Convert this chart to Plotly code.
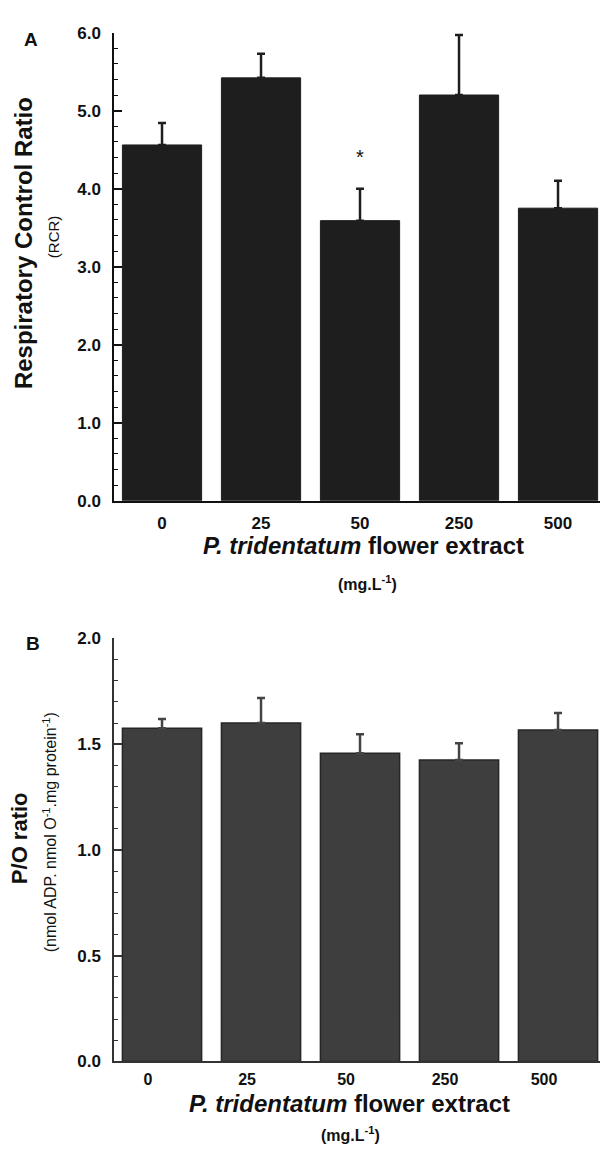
import plotly.graph_objects as go

# ---- data ----
concentrations = ["0", "25", "50", "250", "500"]
rcr_values = [4.56, 5.42, 3.59, 5.20, 3.75]
rcr_errors = [0.28, 0.31, 0.41, 0.77, 0.35]
po_values = [1.575, 1.60, 1.457, 1.425, 1.567]
po_errors = [0.044, 0.118, 0.090, 0.079, 0.081]
significant = ["", "", "*", "", ""]

W, H = 600, 1156
FONT = "Liberation Sans, Arial, sans-serif"


def px_x(v):
    return v / W


def px_y(v):
    return 1 - v / H


fig = go.Figure()

fig.add_trace(go.Bar(
    x=concentrations, y=rcr_values, xaxis="x", yaxis="y",
    marker=dict(color="#1e1e1e", line=dict(color="#1e1e1e", width=1)),
    error_y=dict(type="data", array=rcr_errors, arrayminus=[0] * len(rcr_errors),
                 symmetric=False, color="#1e1e1e", thickness=2.5, width=4),
    showlegend=False,
))

fig.add_trace(go.Bar(
    x=concentrations, y=po_values, xaxis="x2", yaxis="y2",
    marker=dict(color="#3e3e3e", line=dict(color="#262626", width=1.5)),
    error_y=dict(type="data", array=po_errors, arrayminus=[0] * len(po_errors),
                 symmetric=False, color="#444444", thickness=2.5, width=4),
    showlegend=False,
))

# significance marks as a text trace above the error bars
star_x = [c for c, m in zip(concentrations, significant) if m]
star_y = [v + e + 0.38 for v, e, m in zip(rcr_values, rcr_errors, significant) if m]
star_t = [m for m in significant if m]
fig.add_trace(go.Scatter(
    x=star_x, y=star_y, text=star_t, mode="text", xaxis="x", yaxis="y",
    textfont=dict(family="Liberation Sans, Arial, sans-serif", size=20, color="#111111"),
    textposition="middle center", showlegend=False, hoverinfo="skip",
))

tickfont = dict(family=FONT, size=17, color="#111111", weight=700)
tickfont2 = dict(family=FONT, size=16, color="#111111", weight=700)

common_x = dict(type="category", categoryarray=concentrations, categoryorder="array",
                range=[-0.485, 4.424], showline=True,
                linewidth=1.5, ticks="", showgrid=False, zeroline=False)

fig.update_layout(
    width=W, height=H,
    margin=dict(l=0, r=0, t=0, b=0),
    paper_bgcolor="white", plot_bgcolor="white",
    bargap=0.2,
    font=dict(family=FONT, color="#111111"),
    xaxis=dict(domain=[px_x(114), 1.0], anchor="y", linecolor="#111111",
               tickfont=tickfont, ticklabelstandoff=6, **common_x),
    yaxis=dict(domain=[px_y(500), px_y(24)], anchor="x", range=[0, 6.0],
               dtick=1.0, tickformat=".1f", showline=True, linewidth=1.5,
               linecolor="#111111", ticks="inside", ticklen=8, tickwidth=1.5,
               tickcolor="#111111", showgrid=False, zeroline=False,
               tickfont=tickfont, ticklabelstandoff=8,
               minor=dict(dtick=0.2, ticks="inside", ticklen=4, tickwidth=1.2,
                          tickcolor="#111111", showgrid=False)),
    xaxis2=dict(domain=[px_x(114), 1.0], anchor="y2", linecolor="#333333",
                tickfont=tickfont2, ticklabelstandoff=3, ticklabelshift=-14,
                **common_x),
    yaxis2=dict(domain=[px_y(1070), px_y(640)], anchor="x2", range=[0, 2.0],
                dtick=0.5, tickformat=".1f", showline=True, linewidth=1.5,
                linecolor="#333333", ticks="inside", ticklen=8, tickwidth=1.5,
                tickcolor="#333333", showgrid=False, zeroline=False,
                tickfont=tickfont, ticklabelstandoff=8,
                minor=dict(dtick=0.1, ticks="inside", ticklen=4, tickwidth=1.2,
                           tickcolor="#333333", showgrid=False)),
)

ann = []


def paper_text(text, x, y, size, angle=0):
    ann.append(dict(text=text, x=px_x(x), y=px_y(y), xref="paper", yref="paper",
                    xanchor="center", yanchor="middle", showarrow=False,
                    textangle=angle, font=dict(family=FONT, size=size, color="#111111")))


# panel letters
paper_text("<b>A</b>", 31, 31, 19)
paper_text("<b>B</b>", 33, 645, 19)

# panel A titles
paper_text("<b>Respiratory Control Ratio</b>", 23, 238, 24, -90)
paper_text("(RCR)", 53, 232, 15, -90)
paper_text("<b><i>P. tridentatum</i> flower extract</b>", 363, 545, 24)
paper_text("<b>(mg.L<sup>-1</sup>)</b>", 367, 584, 16)

# panel B titles
paper_text("<b>P/O ratio</b>", 19, 843, 22, -90)
paper_text("(nmol ADP. nmol O<sup>-1</sup>.mg protein<sup>-1</sup>)", 50, 837, 16, -90)
paper_text("<b><i>P. tridentatum</i> flower extract</b>", 349, 1113, 24)
paper_text("<b>(mg.L<sup>-1</sup>)</b>", 350, 1144, 16)

fig.update_layout(annotations=ann)

fig.write_html("out.html")
